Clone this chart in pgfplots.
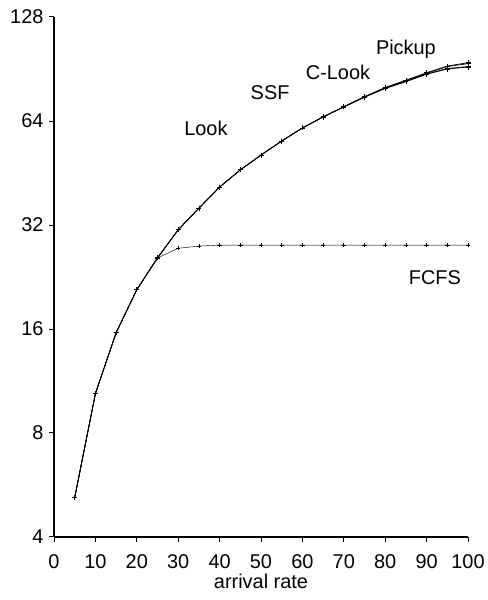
\documentclass[border=0pt]{standalone}
\usepackage{fontspec}
\setmainfont{Liberation Sans}
\usepackage{pgfplots}
\pgfplotsset{compat=1.18}
\begin{document}
\begin{tikzpicture}
\newcommand{\lbl}{\fontsize{20}{23}\selectfont}
\begin{axis}[
  at={(0,0)}, anchor=south west,
  scale only axis, width=414bp, height=520bp,
  xmin=0, xmax=100, ymin=4, ymax=128,
  ymode=log, log basis y=2,
  xtick={0,10,...,100},
  ytick={4,8,16,32,64,128},
  yticklabels={4,8,16,32,64,128},
  axis x line*=bottom, axis y line*=left,
  axis line style={line width=1.3pt,-},
  tick style={line width=1pt,black},
  tick align=outside, major tick length=5bp,
  /pgf/number format/assume math mode=true,
  tick label style={font=\lbl},
  xticklabel style={yshift=-9bp},
  yticklabel style={xshift=-2bp},
  xlabel={arrival rate}, label style={font=\lbl},
  xlabel style={yshift=1bp},
  clip=false,
]
\pgfplotsset{mainline/.style={black, mark=+, mark size=2.5bp, line width=0.7pt, mark options={solid, line width=0.8pt}}}
% Look
\addplot[mainline] coordinates {(5,5.2)(10,10.4)(15,15.6)(20,20.8)(25,25.7)(30,31.0)(35,35.8)(40,41.2)(45,46.2)(50,51.0)(55,56.0)(60,61.1)(65,65.7)(70,70.3)(75,75.0)(80,79.5)(85,83.2)(90,87.4)(95,90.5)(100,91.7)};
% SSF
\addplot[mainline] coordinates {(5,5.2)(10,10.4)(15,15.6)(20,20.8)(25,25.7)(30,31.0)(35,35.8)(40,41.2)(45,46.2)(50,51.0)(55,56.0)(60,61.1)(65,65.7)(70,70.3)(75,75.0)(80,79.6)(85,83.3)(90,87.6)(95,90.8)(100,92.0)};
% C-Look
\addplot[mainline] coordinates {(5,5.2)(10,10.4)(15,15.6)(20,20.8)(25,25.7)(30,31.0)(35,35.8)(40,41.2)(45,46.2)(50,51.0)(55,56.0)(60,61.1)(65,65.8)(70,70.4)(75,75.2)(80,79.9)(85,83.8)(90,88.0)(95,92.0)(100,93.8)};
% Pickup
\addplot[mainline] coordinates {(5,5.2)(10,10.4)(15,15.6)(20,20.8)(25,25.7)(30,31.0)(35,35.8)(40,41.2)(45,46.2)(50,51.0)(55,56.0)(60,61.1)(65,65.8)(70,70.4)(75,75.3)(80,80.0)(85,84.0)(90,88.3)(95,92.3)(100,94.4)};
% FCFS
\addplot[black, mark=+, mark size=2.2bp, line width=0.45pt, mark options={solid, line width=0.7pt}] coordinates {(5,5.2)(10,10.4)(15,15.6)(20,20.8)(25,25.7)(30,27.4)(35,27.8)(40,28.0)(45,28.0)(50,28.0)(55,28.0)(60,28.0)(65,28.0)(70,28.0)(75,28.0)(80,28.0)(85,28.0)(90,28.0)(95,28.0)(100,28.0)};
\node[font=\lbl] at (axis cs:36.7,61.1) {Look};
\node[font=\lbl] at (axis cs:52.2,77.1) {SSF};
\node[font=\lbl] at (axis cs:68.6,88.7) {C-Look};
\node[font=\lbl] at (axis cs:85.0,103.5) {Pickup};
\node[font=\lbl] at (axis cs:92.0,22.6) {FCFS};
\end{axis}
\pgfresetboundingbox
\path (-54bp,-63bp) rectangle (434bp,537bp);
\end{tikzpicture}
\end{document}
